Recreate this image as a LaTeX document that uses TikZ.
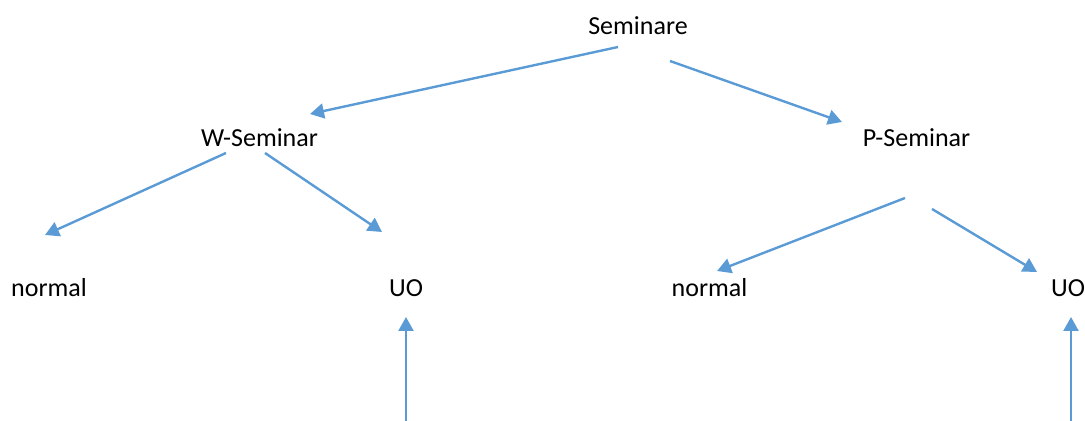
\documentclass[tikz,border=0pt]{standalone}
\usepackage{fontspec}
\setmainfont{Carlito}
\usepackage{xcolor}
\usetikzlibrary{arrows.meta}
\definecolor{bleu}{HTML}{5B9BD5}
\begin{document}
\begin{tikzpicture}[x=0.5pt,y=-0.5pt]
% Styles
\tikzstyle{fleche}=[-{Triangle[length=7pt,width=7.5pt]},draw=bleu,fill=bleu,line width=1.2pt]
\tikzstyle{texte}=[anchor=base,inner sep=0pt,font=\fontsize{13}{15}\selectfont]
% Cadre
\useasboundingbox (0,0) rectangle (1085,421);
% Niveaux
\def\NiveauA{35}
\def\NiveauB{147}
\def\NiveauC{297}
% Noeuds
\node[texte] (R) at (638,\NiveauA) {Seminare};
\node[texte] (Ra) at (259.5,\NiveauB) {W-Seminar};
\node[texte] (Rb) at (916.5,\NiveauB) {P-Seminar};
\node[texte] (Raa) at (49,\NiveauC) {normal};
\node[texte] (Rab) at (406,\NiveauC) {UO};
\node[texte] (Rba) at (709.5,\NiveauC) {normal};
\node[texte] (Rbb) at (1068,\NiveauC) {UO};
% Extremites des arcs
\coordinate (R1) at (618,47);
\coordinate (R2) at (670,61);
\coordinate (Ra0) at (310,114);
\coordinate (Rb0) at (842,122);
\coordinate (Ra1) at (226,153);
\coordinate (Ra2) at (265,153);
\coordinate (Rb1) at (905,198);
\coordinate (Rb2) at (932,209);
\coordinate (Raa0) at (45,235);
\coordinate (Rab0) at (382,232);
\coordinate (Rba0) at (717,271);
\coordinate (Rbb0) at (1037,272);
\coordinate (Rab1) at (406,317);
\coordinate (Rbb1) at (1071,317);
\coordinate (Qa) at (406,421);
\coordinate (Qb) at (1071,421);
% Arcs
\draw[fleche] (R1)--(Ra0);
\draw[fleche] (R2)--(Rb0);
\draw[fleche] (Ra1)--(Raa0);
\draw[fleche] (Ra2)--(Rab0);
\draw[fleche] (Rb1)--(Rba0);
\draw[fleche] (Rb2)--(Rbb0);
\draw[fleche] (Qa)--(Rab1);
\draw[fleche] (Qb)--(Rbb1);
\end{tikzpicture}
\end{document}
